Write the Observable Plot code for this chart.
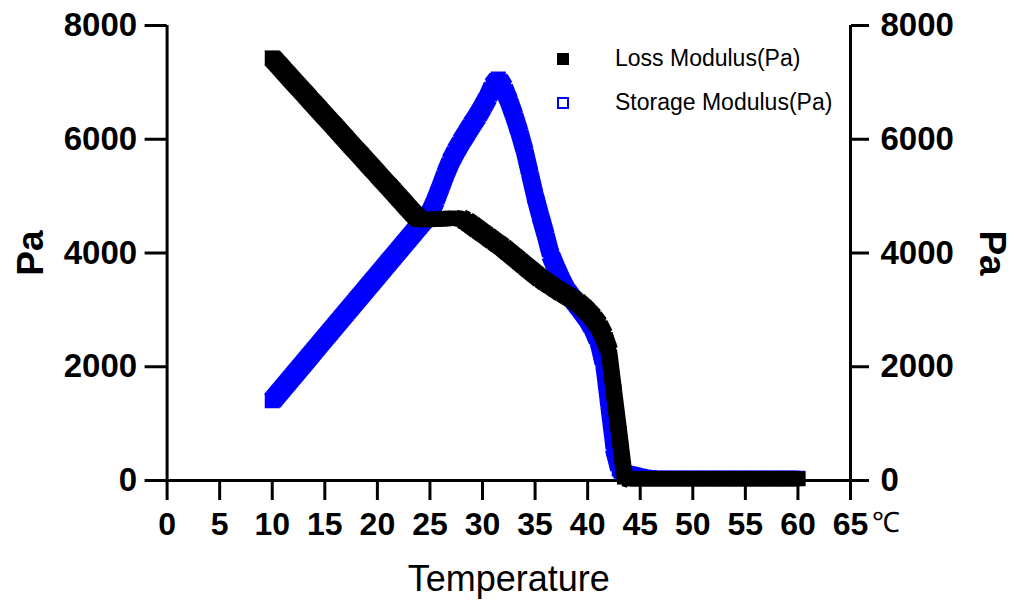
<!DOCTYPE html>
<html>
<head>
<meta charset="utf-8">
<script src="https://cdn.jsdelivr.net/npm/d3@7"></script>
<script src="https://cdn.jsdelivr.net/npm/@observablehq/plot@0.6"></script>
<style>
  html, body { margin: 0; padding: 0; background: #fff; }
  #wrap { position: relative; width: 1017px; height: 608px; font-family: "Liberation Sans", Arial, sans-serif; }
  #wrap svg { position: absolute; left: 0; top: 0; }
  .leg { position: absolute; left: 557px; display: flex; align-items: center; font-size: 23px; color: #000; white-space: nowrap; }
  .leg .sw { width: 12px; height: 12px; box-sizing: border-box; margin-right: 46px; }
</style>
</head>
<body>
<div id="wrap"></div>
<script>
// Temperature (°C)
const temperature = [
  10,10.5,11,11.5,12,12.5,13,13.5,14,14.5,15,15.5,16,16.5,17,17.5,18,18.5,19,19.5,
  20,20.5,21,21.5,22,22.5,23,23.5,24,24.5,25,25.5,26,26.5,27,27.5,28,28.5,29,29.5,
  30,30.5,31,31.5,32,32.5,33,33.5,34,34.5,35,35.5,36,36.5,37,37.5,38,38.5,39,39.5,
  40,40.5,41,41.5,42,42.5,43,43.5,44,44.5,45,45.5,46,46.5,47,47.5,48,48.5,49,49.5,
  50,50.5,51,51.5,52,52.5,53,53.5,54,54.5,55,55.5,56,56.5,57,57.5,58,58.5,59,59.5,
  60
];
// Loss Modulus (Pa)
const lossModulus = [
  7430,7330,7225,7125,7020,6920,6820,6715,6615,6515,6410,6310,6210,6105,6005,5900,5800,5700,5595,5495,
  5395,5290,5190,5090,4985,4885,4780,4680,4590,4585,4590,4595,4600,4605,4610,4610,4600,4555,4490,4420,
  4355,4290,4220,4155,4090,4010,3935,3860,3780,3705,3630,3555,3490,3430,3370,3310,3255,3200,3140,3060,
  2970,2870,2740,2560,2290,1560,820,60,30,30,30,30,30,30,30,30,30,30,30,30,
  30,30,30,30,30,30,30,30,30,30,30,30,30,30,30,30,30,30,30,30,
  30
];
// Storage Modulus (Pa)
const storageModulus = [
  1400,1510,1620,1730,1840,1950,2060,2170,2280,2390,2500,2610,2720,2830,2940,3050,3160,3270,3380,3490,
  3600,3710,3820,3930,4040,4150,4260,4370,4480,4590,4700,4910,5150,5400,5620,5800,5960,6110,6260,6400,
  6560,6730,6940,7060,6910,6680,6420,6130,5800,5400,5000,4650,4320,3960,3730,3520,3340,3210,3090,2970,
  2840,2680,2460,2060,1300,560,200,130,110,90,70,55,45,40,40,40,40,40,40,40,
  40,40,40,40,40,40,40,40,40,40,40,40,40,40,40,40,40,40,40,40,
  40
];
const xTicks = [0,5,10,15,20,25,30,35,40,45,50,55,60,65];
const yTicks = [0,2000,4000,6000,8000];
const seriesNames = ["Loss Modulus(Pa)", "Storage Modulus(Pa)"];
const seriesColors = ["#000000", "#0000ff"];

const W = 1017, H = 608;
const M = {left: 166.6, right: 167, top: 25, bottom: 128};
const xDomain = [0, 65], yDomain = [0, 8000];

const rows = temperature.map((t, i) => ({t, loss: lossModulus[i], storage: storageModulus[i]}));

// Scales identical to the plot's, used only to size the swept band between squares
const xs = Plot.scale({x: {domain: xDomain, range: [M.left, W - M.right]}});
const ys = Plot.scale({y: {domain: yDomain, range: [H - M.bottom, M.top]}});
const SIDE = 15; // marker side in px
function segments(key) {
  const out = [];
  for (let i = 1; i < rows.length; i++) {
    const a = rows[i - 1], b = rows[i];
    const dx = xs.apply(b.t) - xs.apply(a.t);
    const dy = ys.apply(b[key]) - ys.apply(a[key]);
    const L = Math.hypot(dx, dy);
    out.push({t1: a.t, v1: a[key], t2: b.t, v2: b[key], w: L ? SIDE * (Math.abs(dx) + Math.abs(dy)) / L : SIDE});
  }
  return out;
}
const lossSegs = segments("loss");
const storSegs = segments("storage");

const font = "Liberation Sans, Arial, sans-serif";
const plot = Plot.plot({
  width: W,
  height: H,
  marginLeft: M.left,
  marginRight: M.right,
  marginTop: M.top,
  marginBottom: M.bottom,
  x: {domain: xDomain},
  y: {domain: yDomain},
  style: {fontFamily: font, background: "white", color: "black", overflow: "visible"},
  marks: [
    Plot.link(storSegs, {x1: "t1", y1: "v1", x2: "t2", y2: "v2", stroke: seriesColors[1], strokeWidth: "w"}),
    Plot.dot(rows, {x: "t", y: "storage", symbol: "square", r: 7.33, stroke: seriesColors[1], strokeWidth: 2, fill: seriesColors[1]}),
    Plot.link(lossSegs, {x1: "t1", y1: "v1", x2: "t2", y2: "v2", stroke: seriesColors[0], strokeWidth: "w"}),
    Plot.dot(rows, {x: "t", y: "loss", symbol: "square", r: 8.46, fill: seriesColors[0], stroke: "none"}),
    Plot.ruleY([0], {stroke: "black", strokeWidth: 3}),
    Plot.ruleX([0, 65], {stroke: "black", strokeWidth: 3}),
    Plot.axisX({ticks: xTicks, tickSize: 20, tickPadding: 12, strokeWidth: 3, fontSize: 32, fontWeight: "bold", label: null, tickFormat: d3.format("d")}),
    Plot.axisY({anchor: "left", ticks: yTicks, tickSize: 22, tickPadding: 8, strokeWidth: 3, fontSize: 33, fontWeight: "bold", label: null, tickFormat: d3.format("d")}),
    Plot.axisY({anchor: "right", ticks: yTicks, tickSize: 18, tickPadding: 12, strokeWidth: 3, fontSize: 33, fontWeight: "bold", label: null, tickFormat: d3.format("d")}),
    Plot.text(["Pa"], {frameAnchor: "left", textAnchor: "middle", lineAnchor: "middle", dx: -136, rotate: -90, fontSize: 37, fontWeight: "bold", text: d => d}),
    Plot.text(["Pa"], {frameAnchor: "right", textAnchor: "middle", lineAnchor: "middle", dx: 141, rotate: 90, fontSize: 37, fontWeight: "bold", text: d => d}),
    Plot.text(["Temperature"], {frameAnchor: "bottom", textAnchor: "middle", lineAnchor: "middle", dy: 99, fontSize: 36, text: d => d}),
    Plot.text(["\u2103"], {frameAnchor: "bottom-right", textAnchor: "start", lineAnchor: "middle", dx: 21, dy: 43, fontSize: 28, text: d => d})
  ]
});

const wrap = document.getElementById("wrap");
wrap.appendChild(plot);

// Legend (inside the plot area, top right)
const legTops = [45, 89];
seriesNames.forEach((name, i) => {
  const row = document.createElement("div");
  row.className = "leg";
  row.style.top = legTops[i] + "px";
  const sw = document.createElement("div");
  sw.className = "sw";
  if (i === 0) { sw.style.background = seriesColors[0]; }
  else { sw.style.border = "2px solid " + seriesColors[1]; }
  const label = document.createElement("span");
  label.textContent = name;
  row.appendChild(sw);
  row.appendChild(label);
  wrap.appendChild(row);
});
</script>
</body>
</html>
